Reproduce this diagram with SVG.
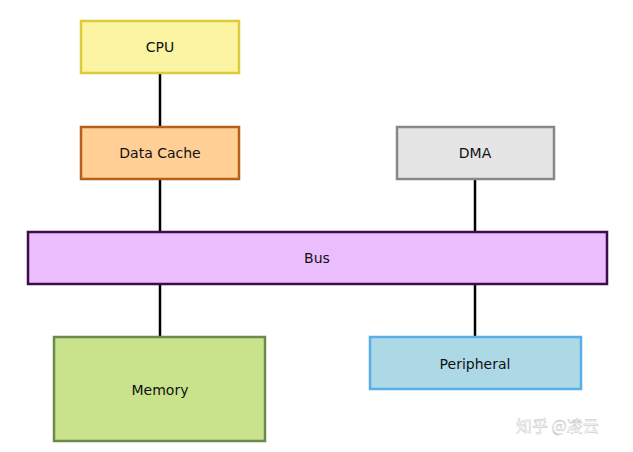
<svg xmlns="http://www.w3.org/2000/svg" width="633" height="452" viewBox="0 0 633 452">
<style>
.n{stroke-width:2.5}
.t{font-family:"DejaVu Sans","Liberation Sans",sans-serif;font-size:14px;fill:#111;text-anchor:middle;dominant-baseline:central}
.c{stroke:#000;stroke-width:2.5;fill:none}
</style>
<rect width="633" height="452" fill="#fff"/>
<g id="connectors">
<line class="c" x1="160" y1="73" x2="160" y2="126"/>
<line class="c" x1="160" y1="179" x2="160" y2="232"/>
<line class="c" x1="160" y1="284" x2="160" y2="337"/>
<line class="c" x1="475" y1="179" x2="475" y2="232"/>
<line class="c" x1="475" y1="284" x2="475" y2="337"/>
</g>
<g id="cpu"><rect class="n" x="81" y="21" width="158" height="52" fill="#fbf4a2" stroke="#dccb3c"/><text class="t" x="160" y="47">CPU</text></g>
<g id="cache"><rect class="n" x="81" y="127" width="158" height="52" fill="#ffcf96" stroke="#b5611b"/><text class="t" x="160" y="153">Data Cache</text></g>
<g id="dma"><rect class="n" x="397" y="127" width="157" height="52" fill="#e5e5e5" stroke="#888"/><text class="t" x="475" y="153">DMA</text></g>
<g id="bus"><rect class="n" x="28" y="232" width="579" height="52" fill="#ecbdfc" stroke="#3a0f48"/><text class="t" x="317" y="258">Bus</text></g>
<g id="memory"><rect class="n" x="54" y="337" width="211" height="104" fill="#c8e38b" stroke="#6b8b4b"/><text class="t" x="160" y="390">Memory</text></g>
<g id="peripheral"><rect class="n" x="370" y="337" width="211" height="52" fill="#add8e6" stroke="#5aaee8"/><text class="t" x="475" y="364">Peripheral</text></g>
<text x="516" y="432" style="font-family:'Noto Sans CJK SC',sans-serif;font-size:16px;fill:#fff;stroke:#bbb;stroke-width:0.4">知乎 @凌云</text>
</svg>
